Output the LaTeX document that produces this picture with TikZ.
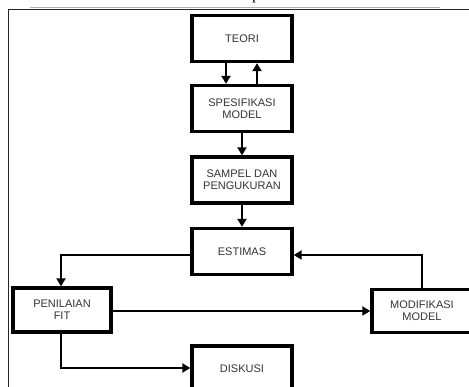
\documentclass[tikz,border=0pt]{standalone}
\usepackage{fontspec}
\setmainfont{Liberation Sans}
\newfontfamily\serifp{Liberation Serif}
\usetikzlibrary{arrows.meta}
\begin{document}
\begin{tikzpicture}[x=1pt,y=-1pt,
  box/.style={draw=black, line width=3.3pt, minimum width=100pt, minimum height=46pt, inner sep=0pt, align=center, font=\fontsize{11}{12}\selectfont, text=black!80},
  arr/.style={line width=2.8pt, -{Triangle[length=8pt,width=9pt]}},
  frame/.style={line width=1.2pt, draw=black!85}]
\useasboundingbox (0,0) rectangle (469,387);
% cropped text above the frame
\node[anchor=base west, inner sep=0pt, font=\serifp\fontsize{16}{16}\selectfont] (ptext) at (252,-0.5) {p};
% outer frame
\draw[line width=1pt, draw=black!30] (30,8) -- (440,8);
\draw[frame] (8.5,400) -- (8.5,9.6) -- (480,9.6);
% boxes
\node[box] (teori) at (242,38.5) {TEORI};
\node[box] (spes) at (242,108.5) {SPESIFIKASI\\MODEL};
\node[box] (sampel) at (242,180) {SAMPEL DAN\\PENGUKURAN};
\node[box] (est) at (242,251.5) {ESTIMAS};
\node[box, minimum width=98pt, minimum height=44pt] (pen) at (62,310) {PENILAIAN\\FIT};
\node[box, minimum width=100pt, minimum height=43pt] (mod) at (422,311) {MODIFIKASI\\MODEL};
\node[box] (disk) at (242,369) {DISKUSI};
% connectors
\draw[arr] ([xshift=-16pt]teori.south) -- ([xshift=-16pt]spes.north);
\draw[arr] ([xshift=15pt]spes.north) -- ([xshift=15pt]teori.south);
\draw[arr] (spes) -- (sampel);
\draw[arr] (sampel) -- (est);
\draw[arr] ([yshift=-3.5pt]est.west) -| ([xshift=-1pt]pen.north);
\draw[arr] (mod.north) |- ([yshift=-3.5pt]est.east);
\draw[arr, line width=2.2pt] ([yshift=-1pt]pen.east) -- ([yshift=-1pt]pen.east -| mod.west);
\draw[arr] ([xshift=-1pt]pen.south) |- ([yshift=1pt]disk.west);
\end{tikzpicture}
\end{document}
